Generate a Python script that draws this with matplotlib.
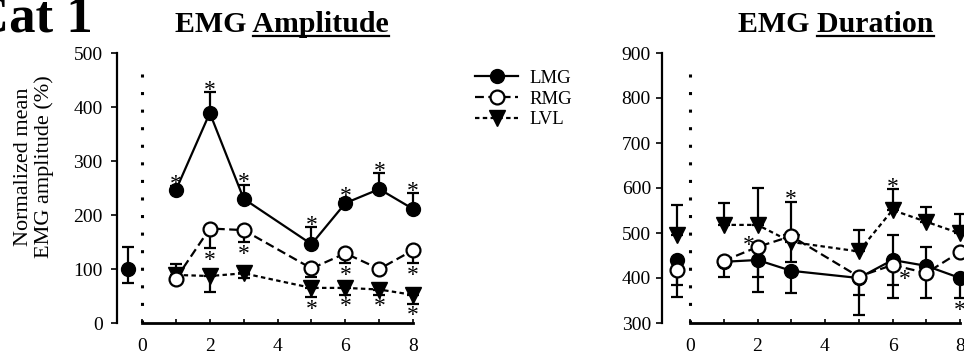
import matplotlib
matplotlib.use('Agg')
import matplotlib.pyplot as plt
from matplotlib.lines import Line2D

plt.rcParams['font.family'] = ['Liberation Serif', 'DejaVu Serif']

days = [1, 2, 3, 5, 6, 7, 8]
names = ['LMG', 'RMG', 'LVL']

# EMG amplitude (% of baseline)
amp_base = 100
amp_base_err = (25, 40)
amp_lmg = [246, 389, 230, 146, 222, 248, 211]
amp_lmg_lo = [0, 0, 0, 0, 0, 0, 0]
amp_lmg_hi = [8, 38, 26, 32, 8, 29, 30]
amp_lmg_star = ['u', 'u', 'u', 'u', 'u', 'u', 'u']
amp_rmg = [82, 175, 172, 101, 129, 100, 135]
amp_rmg_lo = [0, 37, 22, 16, 18, 0, 24]
amp_rmg_hi = [0, 0, 0, 0, 0, 0, 0]
amp_rmg_star = ['', 'd', 'd', '', 'd', '', 'd']
amp_lvl = [89, 87, 92, 65, 65, 62, 52]
amp_lvl_lo = [0, 30, 9, 17, 13, 10, 16]
amp_lvl_hi = [21, 0, 0, 0, 0, 0, 0]
amp_lvl_star = ['', '', '', 'd', 'd', 'd', 'd']

# EMG duration (ms)
dur_base = [440, 418, 496]
dur_base_lo = [56, 60, 0]
dur_base_hi = [0, 0, 66]
dur_lmg = [436, 440, 416, 400, 440, 427, 400]
dur_lmg_lo = [0, 70, 50, 82, 85, 72, 45]
dur_lmg_hi = [0, 0, 0, 0, 56, 43, 0]
dur_lmg_star = ['', '', '', '', '', '', 'd']
dur_rmg = [438, 469, 493, 403, 429, 411, 458]
dur_rmg_lo = [35, 66, 0, 41, 45, 0, 0]
dur_rmg_hi = [0, 0, 77, 0, 0, 0, 0]
dur_rmg_star = ['', 'l', 'u', '', 'r', '', '']
dur_lvl = [518, 518, 480, 459, 551, 525, 499]
dur_lvl_lo = [0, 0, 44, 0, 0, 0, 0]
dur_lvl_hi = [48, 83, 0, 47, 46, 33, 44]
dur_lvl_star = ['', '', '', '', 'u', '', '']

base_x = -0.4

styles = {
    'LMG': dict(marker='o', ms=10, mfc='black', mec='black', ls='-'),
    'RMG': dict(marker='o', ms=10, mfc='white', mec='black', mew=1.6, dashes=(4, 2)),
    'LVL': dict(marker='v', ms=11, mfc='black', mec='black', dashes=(2, 1.5)),
}
zorders = {'LMG': 4, 'RMG': 5, 'LVL': 3}
star_off = {'u': (0, 5), 'd': (0, -5), 'l': (-6, 5), 'r': (9, -7)}
star_fs = 17


def draw_series(ax, name, ys, lo, hi, stars):
    ax.errorbar(days, ys, yerr=[lo, hi], color='black', lw=1.6, ecolor='black',
                elinewidth=1.6, capsize=4, capthick=1.6, zorder=zorders[name],
                **styles[name])
    for x, y, l, h, s in zip(days, ys, lo, hi, stars):
        if not s:
            continue
        dx, dy = star_off[s]
        if s == 'u':
            yy = y + h
        elif s == 'd':
            yy = y - l
        else:
            yy = y
        ax.annotate('*', (x, yy), xytext=(dx, dy - 0.45 * star_fs),
                    textcoords='offset points', ha='center', va='baseline',
                    fontsize=star_fs, zorder=6)


def draw_base(ax, name, y, lo, hi):
    st = dict(styles[name])
    st.pop('dashes', None)
    ax.errorbar([base_x], [y], yerr=[[lo], [hi]], color='black', ecolor='black',
                elinewidth=1.6, capsize=4, capthick=1.6, zorder=zorders[name], **st)


def style_axes(ax, ymin, ymax, step, yspine_x, dot_top, ypad):
    ax.set_ylim(ymin, ymax)
    ax.set_yticks(range(ymin, ymax + 1, step))
    for s in ['top', 'right']:
        ax.spines[s].set_visible(False)
    ax.spines['left'].set_position(('data', yspine_x))
    ax.spines['bottom'].set_bounds(0, 8)
    ax.spines['left'].set_linewidth(1.6)
    ax.spines['bottom'].set_linewidth(2)
    ax.set_xticks([0, 2, 4, 6, 8])
    ax.set_xticks([1, 3, 5, 7], minor=True)
    ax.tick_params(axis='x', which='both', direction='in', length=3, width=1.2,
                   pad=11, labelsize=14)
    ax.tick_params(axis='y', direction='out', length=4, width=1.2, pad=ypad,
                   labelsize=14)
    ax.vlines(0, ymin, dot_top, colors='black', linestyles=(0, (1, 4.75)), lw=2.2)


fig = plt.figure(figsize=(9.64, 3.59), dpi=100)
W, H = 964, 359

# left panel: x=0 at 142px, 33.9 px/unit; y 0..500 -> 323..53 px
ax1 = fig.add_axes([(142 - 0.9 * 33.9) / W, (H - 323) / H, 9.2 * 33.9 / W, 270 / H])
ax1.set_xlim(-0.9, 8.3)
style_axes(ax1, 0, 500, 100, -0.75, 482, 6)
draw_base(ax1, 'LMG', amp_base, amp_base_err[0], amp_base_err[1])
draw_series(ax1, 'LVL', amp_lvl, amp_lvl_lo, amp_lvl_hi, amp_lvl_star)
draw_series(ax1, 'RMG', amp_rmg, amp_rmg_lo, amp_rmg_hi, amp_rmg_star)
draw_series(ax1, 'LMG', amp_lmg, amp_lmg_lo, amp_lmg_hi, amp_lmg_star)

# right panel: x=0 at 690px, 33.75 px/unit; y 300..900 -> 323..53 px
ax2 = fig.add_axes([(690 - 0.95 * 33.75) / W, (H - 323) / H, 9.25 * 33.75 / W, 270 / H])
ax2.set_xlim(-0.95, 8.3)
style_axes(ax2, 300, 900, 100, -0.83, 878, 4)
for n, y, lo, hi in zip(names, dur_base, dur_base_lo, dur_base_hi):
    draw_base(ax2, n, y, lo, hi)
draw_series(ax2, 'LVL', dur_lvl, dur_lvl_lo, dur_lvl_hi, dur_lvl_star)
draw_series(ax2, 'LMG', dur_lmg, dur_lmg_lo, dur_lmg_hi, dur_lmg_star)
draw_series(ax2, 'RMG', dur_rmg, dur_rmg_lo, dur_rmg_hi, dur_rmg_star)

fig.text(34 / W, 1 - 167 / H, 'Normalized mean\nEMG amplitude (%)', rotation=90,
         ha='center', va='center', multialignment='center', fontsize=16,
         linespacing=1.05)

fig.text(-29 / W, 1 - 32 / H, 'Cat 1', fontsize=38, fontweight='bold',
         ha='left', va='baseline')

# legend
handles = []
for n in names:
    st = dict(styles[n])
    handles.append(Line2D([], [], color='black', lw=1.6, **st))
fig.legend(handles, names, loc='center left', bbox_to_anchor=(475 / W, 1 - 99 / H),
           frameon=False, fontsize=13.5, handlelength=2.3, handletextpad=0.6,
           labelspacing=0.2, borderpad=0, borderaxespad=0, numpoints=1)

# titles with underlined second word
fig.canvas.draw()
renderer = fig.canvas.get_renderer()
for cx, first, second in [(282, 'EMG', 'Amplitude'), (836, 'EMG', 'Duration')]:
    t = fig.text(cx / W, 1 - 32 / H, first + ' ' + second, fontsize=21.5,
                 fontweight='bold', ha='center', va='baseline')
    tmp = fig.text(0, 0, second, fontsize=21.5, fontweight='bold')
    wbox = tmp.get_window_extent(renderer)
    tmp.remove()
    bb = t.get_window_extent(renderer)
    uy = (H - 36) / H
    fig.add_artist(Line2D([(bb.x1 - wbox.width) / W, bb.x1 / W], [uy, uy],
                          color='black', lw=1.6, transform=fig.transFigure))

fig.savefig('out.png', dpi=100)
